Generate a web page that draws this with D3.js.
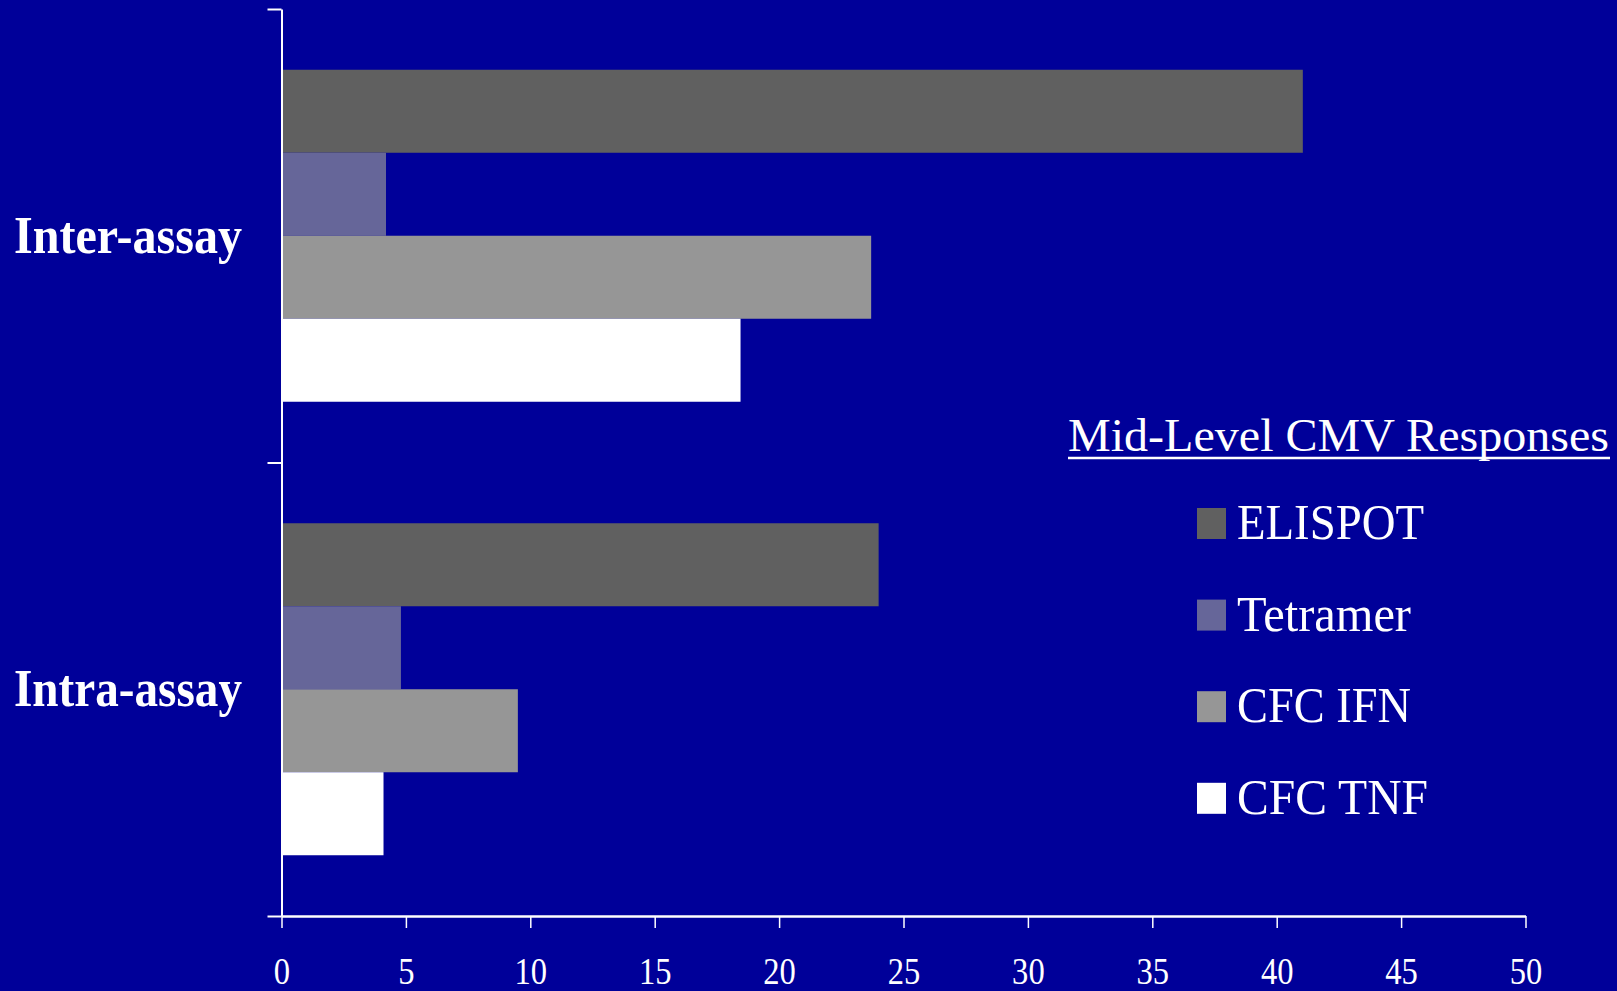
<!DOCTYPE html>
<html>
<head>
<meta charset="utf-8">
<script src="https://cdn.jsdelivr.net/npm/d3@7"></script>
<style>
  html, body { margin: 0; padding: 0; background: #000099; }
  svg { display: block; }
  text { font-family: "Liberation Serif", "Times New Roman", serif; fill: #fff; }
</style>
</head>
<body>
<svg id="chart"></svg>
<script>
// ---- data ----
let categories = ['Inter-assay', 'Intra-assay'];
let series = ['ELISPOT', 'Tetramer', 'CFC IFN', 'CFC TNF'];
let elispot = [41.05, 24.0];
let tetramer = [4.2, 4.8];
let cfcIfn = [23.7, 9.5];
let cfcTnf = [18.45, 4.1];
let xTicks = [0, 5, 10, 15, 20, 25, 30, 35, 40, 45, 50];
let legendTitle = 'Mid-Level CMV Responses';

let colors = ['#606060', '#666699', '#969696', '#ffffff'];
let values = [elispot, tetramer, cfcIfn, cfcTnf];

let width = 1617;
let height = 991;

let svg = d3.select('#chart')
    .attr('width', width)
    .attr('height', height);

svg.append('rect')
    .attr('width', width)
    .attr('height', height)
    .attr('fill', '#000099');

// scales
let xScale = d3.scaleLinear()
    .domain([0, 50])
    .range([281.5, 1525.5]);

let yScale = d3.scaleBand()
    .domain(categories)
    .range([9, 916]);

let innerScale = d3.scaleBand()
    .domain(series)
    .range([0, yScale.bandwidth()])
    .paddingOuter(0.732);

// bars, one group per category
let rows = [];
categories.forEach(function(c, ci) {
    series.forEach(function(s, si) {
        rows.push({cat: c, name: s, value: values[si][ci], color: colors[si]});
    });
});

svg.selectAll('rect.bar')
    .data(rows)
    .enter()
    .append('rect')
    .attr('class', 'bar')
    .attr('x', xScale(0))
    .attr('y', function(d) { return yScale(d.cat) + innerScale(d.name); })
    .attr('width', function(d) { return xScale(d.value) - xScale(0); })
    .attr('height', innerScale.bandwidth())
    .attr('fill', function(d) { return d.color; });

// left axis: ticks on the category boundaries
let edgeScale = d3.scaleLinear()
    .domain([0, categories.length])
    .range([916, 9]);

let y_axis = d3.axisLeft(edgeScale)
    .tickValues(d3.range(categories.length + 1))
    .tickFormat('')
    .tickSize(14)
    .tickSizeOuter(0);

let gy = svg.append('g')
    .attr('transform', 'translate(' + xScale(0) + ',0)')
    .call(y_axis);

gy.select('.domain').attr('stroke', '#fff').attr('stroke-width', 2);
gy.selectAll('.tick line').attr('stroke', '#fff').attr('stroke-width', 2);

// bottom axis
let x_axis = d3.axisBottom(xScale)
    .tickValues(xTicks)
    .tickSize(12)
    .tickSizeOuter(0);

let gx = svg.append('g')
    .attr('transform', 'translate(0,916)')
    .call(x_axis);

gx.select('.domain').attr('stroke', '#fff').attr('stroke-width', 2.5);
gx.selectAll('.tick line').attr('stroke', '#fff').attr('stroke-width', 1.5);
gx.selectAll('.tick text')
    .attr('fill', '#fff')
    .attr('dy', null)
    .attr('y', 68)
    .style('font-family', '"Liberation Serif", serif')
    .style('font-size', '37px')
    .attr('transform', 'scale(0.88,1)'); // the labels are a bit narrow in the original

// category labels
svg.selectAll('text.cat')
    .data(categories)
    .enter()
    .append('text')
    .attr('class', 'cat')
    .attr('x', 242)
    .attr('y', function(d) { return yScale(d) + yScale.bandwidth() / 2 + 17; })
    .attr('text-anchor', 'end')
    .attr('font-weight', 'bold')
    .attr('font-size', 53)
    .attr('textLength', 228)
    .attr('lengthAdjust', 'spacingAndGlyphs')
    .text(function(d) { return d; });

// legend
let legend = svg.append('g').attr('transform', 'translate(1068,0)');

legend.append('text')
    .attr('x', 0)
    .attr('y', 451)
    .attr('font-size', 47)
    .attr('textLength', 541)
    .attr('lengthAdjust', 'spacingAndGlyphs')
    .text(legendTitle);

legend.append('line')
    .attr('x1', 0)
    .attr('x2', 542)
    .attr('y1', 458)
    .attr('y2', 458)
    .attr('stroke', '#fff')
    .attr('stroke-width', 2.5);

let legendWidths = [187, 174, 174, 191];

let items = legend.selectAll('g.item')
    .data(series)
    .enter()
    .append('g')
    .attr('class', 'item')
    .attr('transform', function(d, i) { return 'translate(0,' + (539 + i * 91.6) + ')'; });

items.append('rect')
    .attr('x', 129)
    .attr('y', -31)
    .attr('width', 29)
    .attr('height', 31)
    .attr('fill', function(d, i) { return colors[i]; });

items.append('text')
    .attr('x', 169)
    .attr('y', 0)
    .attr('font-size', 51)
    .attr('textLength', function(d, i) { return legendWidths[i]; })
    .attr('lengthAdjust', 'spacingAndGlyphs')
    .text(function(d) { return d; });
</script>
</body>
</html>
